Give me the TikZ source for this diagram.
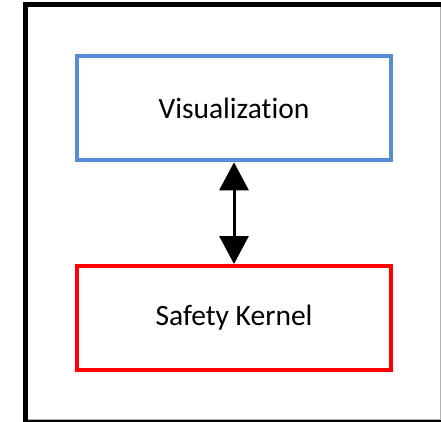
\documentclass[tikz,border=0pt]{standalone}
\usepackage{fontspec}
\setmainfont[Ligatures={NoCommon}]{Carlito}
\usetikzlibrary{arrows.meta}
\definecolor{boxblue}{RGB}{85,142,213}
\definecolor{boxred}{RGB}{255,0,0}
\tikzset{
  box/.style={draw, line width=4pt, minimum width=314pt, minimum height=104pt, inner sep=0pt, font=\fontsize{29.5}{34}\selectfont},
  link/.style={line width=3pt, {Triangle[length=28pt,width=29pt]}-{Triangle[length=28pt,width=29pt]}}
}
\begin{document}
\begin{tikzpicture}[x=1pt,y=-1pt]
\useasboundingbox (0,0) rectangle (441,422);
\begin{scope}
\clip (0,0) rectangle (441,422);
\draw[line width=5pt] (25,4.5) rectangle (444,422.5);
\draw[gray!60, line width=1pt] (440,7) -- (440,419) -- (27.5,419);
\end{scope}
\node[box, draw=boxblue] (vis) at (234,108.3) {Visualization};
\node[box, draw=boxred] (safe) at (234,318) {Safety Kernel};
\draw[link] (vis.south) -- (safe.north);
\end{tikzpicture}
\end{document}
